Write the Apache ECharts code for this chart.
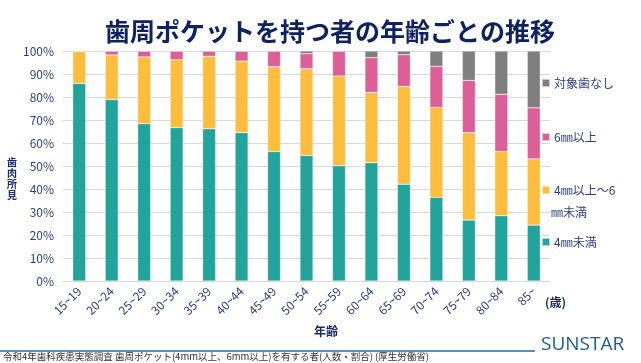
<!DOCTYPE html>
<html><head><meta charset="utf-8">
<script src="https://cdn.jsdelivr.net/npm/echarts@6/dist/echarts.min.js"></script>
<style>html,body{margin:0;padding:0;background:#fff}#c{width:641px;height:363px}</style>
</head><body><div id="c"></div>
<script>
const categories = ['15~19','20~24','25~29','30~34','35~39','40~44','45~49','50~54','55~59','60~64','65~69','70~74','75~79','80~84','85~'];
const under4 = [85.9, 78.9, 68.4, 66.7, 66.2, 64.5, 56.3, 54.6, 50.1, 51.4, 42.1, 36.4, 26.5, 28.4, 24.3];
const from4to6 = [14.1, 19.4, 29.0, 29.5, 31.5, 31.1, 36.9, 37.7, 39.0, 30.6, 42.5, 39.1, 38.0, 27.9, 28.8];
const over6 = [0, 1.7, 2.6, 3.8, 2.3, 4.4, 6.8, 6.5, 10.9, 15.1, 13.8, 17.8, 22.7, 24.9, 22.2];
const noTeeth = [0, 0, 0, 0, 0, 0, 0, 1.2, 0, 2.9, 1.6, 6.7, 12.8, 18.8, 24.7];
const seriesNames = ['4㎜未満', '4㎜以上～6㎜未満', '6㎜以上', '対象歯なし'];
const yTicks = [0, 10, 20, 30, 40, 50, 60, 70, 80, 90, 100];

const FONT = '"Noto Sans CJK JP", "Noto Sans", sans-serif';
const NAVY = '#2e3f7c';
const colors = ['#22a39b', '#ffbd3e', '#dc5f98', '#7f7f7f'];
const chart = echarts.init(document.getElementById('c'), null, {renderer: 'canvas'});

function bar(name, data, color) {
  return {
    name: name, type: 'bar', stack: 'all', data: data, barWidth: 13,
    itemStyle: {color: color, borderColor: 'rgba(255,255,255,0.6)', borderWidth: 0.5},
    emphasis: {disabled: true}
  };
}
function legendAt(name, top, label) {
  return {
    data: [name], left: 541, top: top, orient: 'vertical', padding: 0,
    itemWidth: 8, itemHeight: 8, itemGap: 0, icon: 'rect', selectedMode: false,
    formatter: label ? () => label : undefined,
    textStyle: {fontFamily: FONT, fontSize: 12, color: NAVY, padding: [0, 0, 0, -1]}
  };
}

chart.setOption({
  animation: false,
  textStyle: {fontFamily: FONT},
  grid: {left: 63, right: 91, top: 51, bottom: 82, containLabel: false},
  title: {
    text: '歯周ポケットを持つ者の年齢ごとの推移', left: 325, top: 14, textAlign: 'center',
    textStyle: {fontFamily: FONT, fontSize: 25, fontWeight: 'bold', color: '#0e2263'}
  },
  legend: [
    legendAt(seriesNames[3], 77),
    legendAt(seriesNames[2], 131),
    legendAt(seriesNames[1], 184, '4㎜以上～6'),
    legendAt(seriesNames[0], 236)
  ],
  xAxis: {
    type: 'category', data: categories,
    axisLine: {lineStyle: {color: '#d9d9d9'}},
    axisTick: {show: false},
    axisLabel: {rotate: 45, margin: 8, fontSize: 12, color: NAVY, fontFamily: FONT, interval: 0}
  },
  yAxis: {
    type: 'value', min: yTicks[0], max: yTicks[yTicks.length - 1], interval: 10,
    axisLine: {show: false}, axisTick: {show: false},
    splitLine: {lineStyle: {color: '#d9d9d9'}},
    axisLabel: {formatter: '{value}%', fontSize: 12, color: NAVY, fontFamily: FONT, margin: 9}
  },
  series: [
    bar(seriesNames[0], under4, colors[0]),
    bar(seriesNames[1], from4to6, colors[1]),
    bar(seriesNames[2], over6, colors[2]),
    bar(seriesNames[3], noTeeth, colors[3])
  ],
  graphic: [
    {type: 'text', left: 551, top: 206, style: {text: '㎜未満', font: '12px ' + FONT, fill: NAVY}},
    {type: 'text', left: 7, top: 157, style: {text: '歯\n肉\n所\n見', font: 'bold 10px ' + FONT, fill: '#1a2a66', lineHeight: 11}},
    {type: 'text', left: 545, top: 296, style: {text: '(歳)', font: 'bold 12px ' + FONT, fill: '#1a2a66'}},
    {type: 'text', left: 314, top: 325, style: {text: '年齢', font: 'bold 12px ' + FONT, fill: '#1a2a66'}},
    {type: 'line', shape: {x1: 0, y1: 351, x2: 535, y2: 351}, style: {stroke: '#2a69a2', lineWidth: 1.5}},
    {type: 'text', left: 541, top: 335, style: {text: 'SUNSTAR', font: '19px "Open Sans", "Noto Sans", sans-serif', fill: '#1e5b8e'}},
    {type: 'text', left: 3, top: 352, style: {text: '令和4年歯科疾患実態調査 歯周ポケット(4mm以上、6mm以上)を有する者(人数・割合) (厚生労働省)', font: '9.5px ' + FONT, fill: '#333333'}}
  ]
});
</script>
</body></html>
